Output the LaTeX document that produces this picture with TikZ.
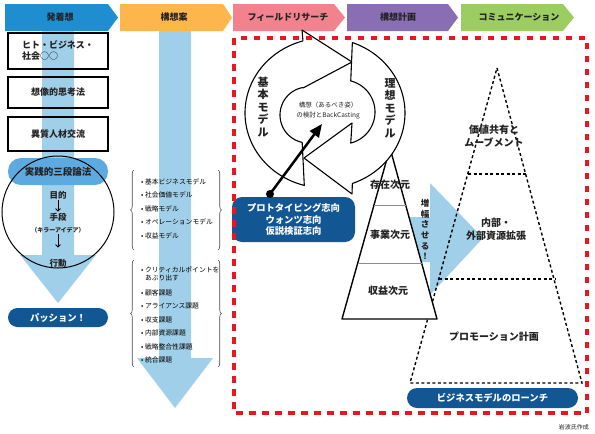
\documentclass[tikz,border=0pt]{standalone}
\usepackage{fontspec}
\setmainfont{Noto Sans CJK JP}
\usetikzlibrary{arrows.meta,decorations.pathreplacing}
\definecolor{hdblue}{RGB}{30,142,208}
\definecolor{hdorange}{RGB}{252,182,76}
\definecolor{hdpink}{RGB}{241,130,142}
\definecolor{hdpurple}{RGB}{138,110,180}
\definecolor{hdgreen}{RGB}{156,205,96}
\definecolor{flowblue}{RGB}{160,207,234}
\definecolor{pillblue}{RGB}{92,170,224}
\definecolor{navy}{RGB}{18,86,148}
\definecolor{framered}{RGB}{232,22,30}
\definecolor{txt}{RGB}{35,35,35}

\begin{document}
\begin{tikzpicture}[x=1pt,y=-1pt,
	hdr/.style={font=\fontsize{9}{10}\selectfont\bfseries, text=txt},
	ideabox/.style={draw, line width=1.1pt, minimum width=100pt, font=\fontsize{9}{11}\selectfont\bfseries, text=txt, align=left},
	navypill/.style={fill=navy, text=white, rounded corners=9.5pt, minimum height=19pt, inner sep=0pt, font=\fontsize{9.3}{11}\selectfont\bfseries},
	lst/.style={anchor=west, inner sep=0pt, font=\fontsize{6.8}{8.5}\selectfont, text=black, align=left},
	brc/.style={decorate, decoration={brace, amplitude=3.5pt}, line width=0.6pt, draw=black!70},
	cyc/.style={draw, fill=white, line width=1.1pt, line join=round},
	dotline/.style={line width=1.4pt, dash pattern=on 3pt off 2.5pt},
	lbl/.style={font=\fontsize{10}{13}\selectfont\bfseries, text=txt, align=center},
	vlab/.style={font=\fontsize{11}{12.5}\selectfont\bfseries, text=txt, align=center, inner sep=0pt},
	down/.style={line width=0.9pt, -{Straight Barb[length=2.5pt,width=5pt]}}
]

	\path[use as bounding box, fill=white] (0,0) rectangle (595,434);

	\fill[hdblue] (5,4) -- (108,4) -- (118,17.5) -- (108,31) -- (5,31) -- cycle;
	\fill[hdorange] (120,4) -- (223,4) -- (232,17.5) -- (223,31) -- (120,31) -- cycle;
	\fill[hdpink] (233,4) -- (334,4) -- (345,17.5) -- (334,31) -- (233,31) -- cycle;
	\fill[hdpurple] (347,4) -- (448,4) -- (458,17.5) -- (448,31) -- (347,31) -- cycle;
	\fill[hdgreen] (461,4) -- (563,4) -- (574,17.5) -- (563,31) -- (461,31) -- cycle;
	\node[hdr] (h1) at (60,17.5) {発着想};
	\node[hdr] (h2) at (174,17.5) {構想案};
	\node[hdr] (h3) at (288,17.5) {フィールドリサーチ};
	\node[hdr] (h4) at (398,17.5) {構想計画};
	\node[hdr] (h5) at (519,17.5) {コミュニケーション};

	\fill[flowblue] (42,31) -- (74,31) -- (74,255) -- (96,255) -- (58,303) -- (20,255) -- (42,255) -- cycle;
	\fill[flowblue] (159,31) -- (191,31) -- (191,358) -- (213,358) -- (175,408) -- (137,358) -- (159,358) -- cycle;

	\node[ideabox, minimum height=36pt] (people) at (58,51) {ヒト・ビジネス・\\社会○○};
	\node[ideabox, minimum height=31pt] (imagine) at (58,92.5) {想像的思考法};
	\node[ideabox, minimum height=34pt] (diverse) at (58,134) {異質人材交流};
	\node[fill=pillblue, rounded corners=13pt, minimum width=100pt, minimum height=27pt, inner sep=0pt, font=\fontsize{9.5}{11}\selectfont\bfseries, text=txt] (syllogism) at (58,171.5) {実践的三段論法};
	\node[draw, circle, line width=1pt, minimum size=112pt] (ring) at (58,212) {};
	\node[font=\fontsize{8.5}{10}\selectfont\bfseries, text=txt, inner sep=1pt] (purpose) at (58,195) {目的};
	\node[font=\fontsize{8.5}{10}\selectfont\bfseries, text=txt, inner sep=1pt] (means) at (58,217) {手段};
	\node[font=\fontsize{6}{7}\selectfont\bfseries, text=txt, inner sep=1pt] (killer) at (58,230) {（キラーアイデア）};
	\node[font=\fontsize{8.5}{10}\selectfont\bfseries, text=txt, inner sep=1pt] (action) at (58,263) {行動};
	\draw[down] (purpose) -- (means);
	\draw[down, shorten >=10pt] (killer) -- (action);
	\node[navypill, minimum width=100pt] (passion) at (58,317.5) {パッション！};

	\draw[brc] (134,250) -- (134,170);
	\draw[brc] (218,170) -- (218,250);
	\node[lst] (m1) at (141,182) {• 基本ビジネスモデル};
	\node[lst] (m2) at (141,195) {• 社会価値モデル};
	\node[lst] (m3) at (141,209) {• 戦略モデル};
	\node[lst] (m4) at (141,222) {• オペレーションモデル};
	\node[lst] (m5) at (141,236) {• 収益モデル};
	\draw[brc] (134,367) -- (134,260);
	\draw[brc] (218,260) -- (218,367);
	\node[lst] (t1) at (141,274) {• クリティカルポイントを\\\phantom{• }あぶり出す};
	\node[lst] (t2) at (141,293) {• 顧客課題};
	\node[lst] (t3) at (141,306) {• アライアンス課題};
	\node[lst] (t4) at (141,320) {• 収支課題};
	\node[lst] (t5) at (141,333) {• 内部資源課題};
	\node[lst] (t6) at (141,347) {• 戦略整合性課題};
	\node[lst] (t7) at (141,360) {• 統合課題};

	\fill[flowblue] (398,217) -- (430,217) -- (430,183) -- (483,238) -- (430,295) -- (430,262) -- (398,262) -- cycle;
	\node[font=\fontsize{8.5}{10.6}\selectfont\bfseries, text=txt, align=center, inner sep=0pt] (amplify) at (425,229.5) {増\\幅\\さ\\せ\\る\\！};

	\draw[dotline] (497,68) -- (582,383) -- (410,383) -- cycle;
	\draw[dotline] (468,174) -- (526,174);
	\draw[dotline] (439,279) -- (555,279);
	\node[lbl] (share) at (494,136) {価値共有と\\ムーブメント};
	\node[lbl] (expand) at (496,229) {内部・\\外部資源拡張};
	\node[lbl] (promo) at (494,337) {プロモーション計画};

	\draw[fill=white, line width=1.4pt, line join=round] (390,148) -- (437,319) -- (342,319) -- cycle;
	\draw[black!45, line width=0.9pt] (374,205) -- (405.7,205);
	\draw[black!45, line width=0.9pt] (357.7,263) -- (421.6,263);
	\node[lbl] (exist) at (390,185) {存在次元};
	\node[lbl] (business) at (390,235) {事業次元};
	\node[lbl] (profit) at (388,291) {収益次元};

	\draw[cyc] (302,30) -- (352,62) -- (303,88) -- plot[domain=258:102, samples=40] ({308+28*cos(\x)},{115+28*sin(\x)}) -- plot[domain=105:254, samples=50] ({325+80*cos(\x)},{113+75*sin(\x)}) -- cycle;
	\draw[cyc] (352,123) -- (304,158) -- (352,194) -- plot[domain=70:-70, samples=50] ({325+80*cos(\x)},{113+75*sin(\x)}) -- plot[domain=-76:76, samples=40] ({343+32*cos(\x)},{112+32*sin(\x)}) -- cycle;
	\node[vlab] (basic) at (263,107) {基\\本\\モ\\デ\\ル};
	\node[vlab] (ideal) at (390,108) {理\\想\\モ\\デ\\ル};
	\node[font=\fontsize{6.5}{10}\selectfont, text=txt, align=center] (vision) at (328,111) {構想（あるべき姿）\\の検討とBackCasting};

	\node[fill=navy, text=white, rounded corners=10pt, minimum width=123pt, minimum height=45pt, inner sep=0pt, align=center, font=\fontsize{9.3}{11.8}\selectfont\bfseries] (proto) at (293.5,219.5) {プロトタイピング志向\\ウォンツ志向\\仮説検証志向};
	\node[circle, fill=black, minimum size=8pt, inner sep=0pt] (pin) at (270,194) {};
	\coordinate (aim) at (322,124);
	\draw[line width=2.5pt, -{Triangle[length=13pt,width=11pt]}] (pin.center) -- (aim);

	\node[navypill, minimum width=171pt, minimum height=20pt, rounded corners=10pt] (launch) at (492.5,398) {ビジネスモデルのローンチ};

	\draw[framered, line width=3.2pt, dash pattern=on 6.5pt off 6.5pt] (234,38) rectangle (587,413);

	\node[anchor=east, font=\fontsize{6}{7}\selectfont, text=txt, inner sep=0pt] (credit) at (589,427) {岩波氏作成};

\end{tikzpicture}
\end{document}
